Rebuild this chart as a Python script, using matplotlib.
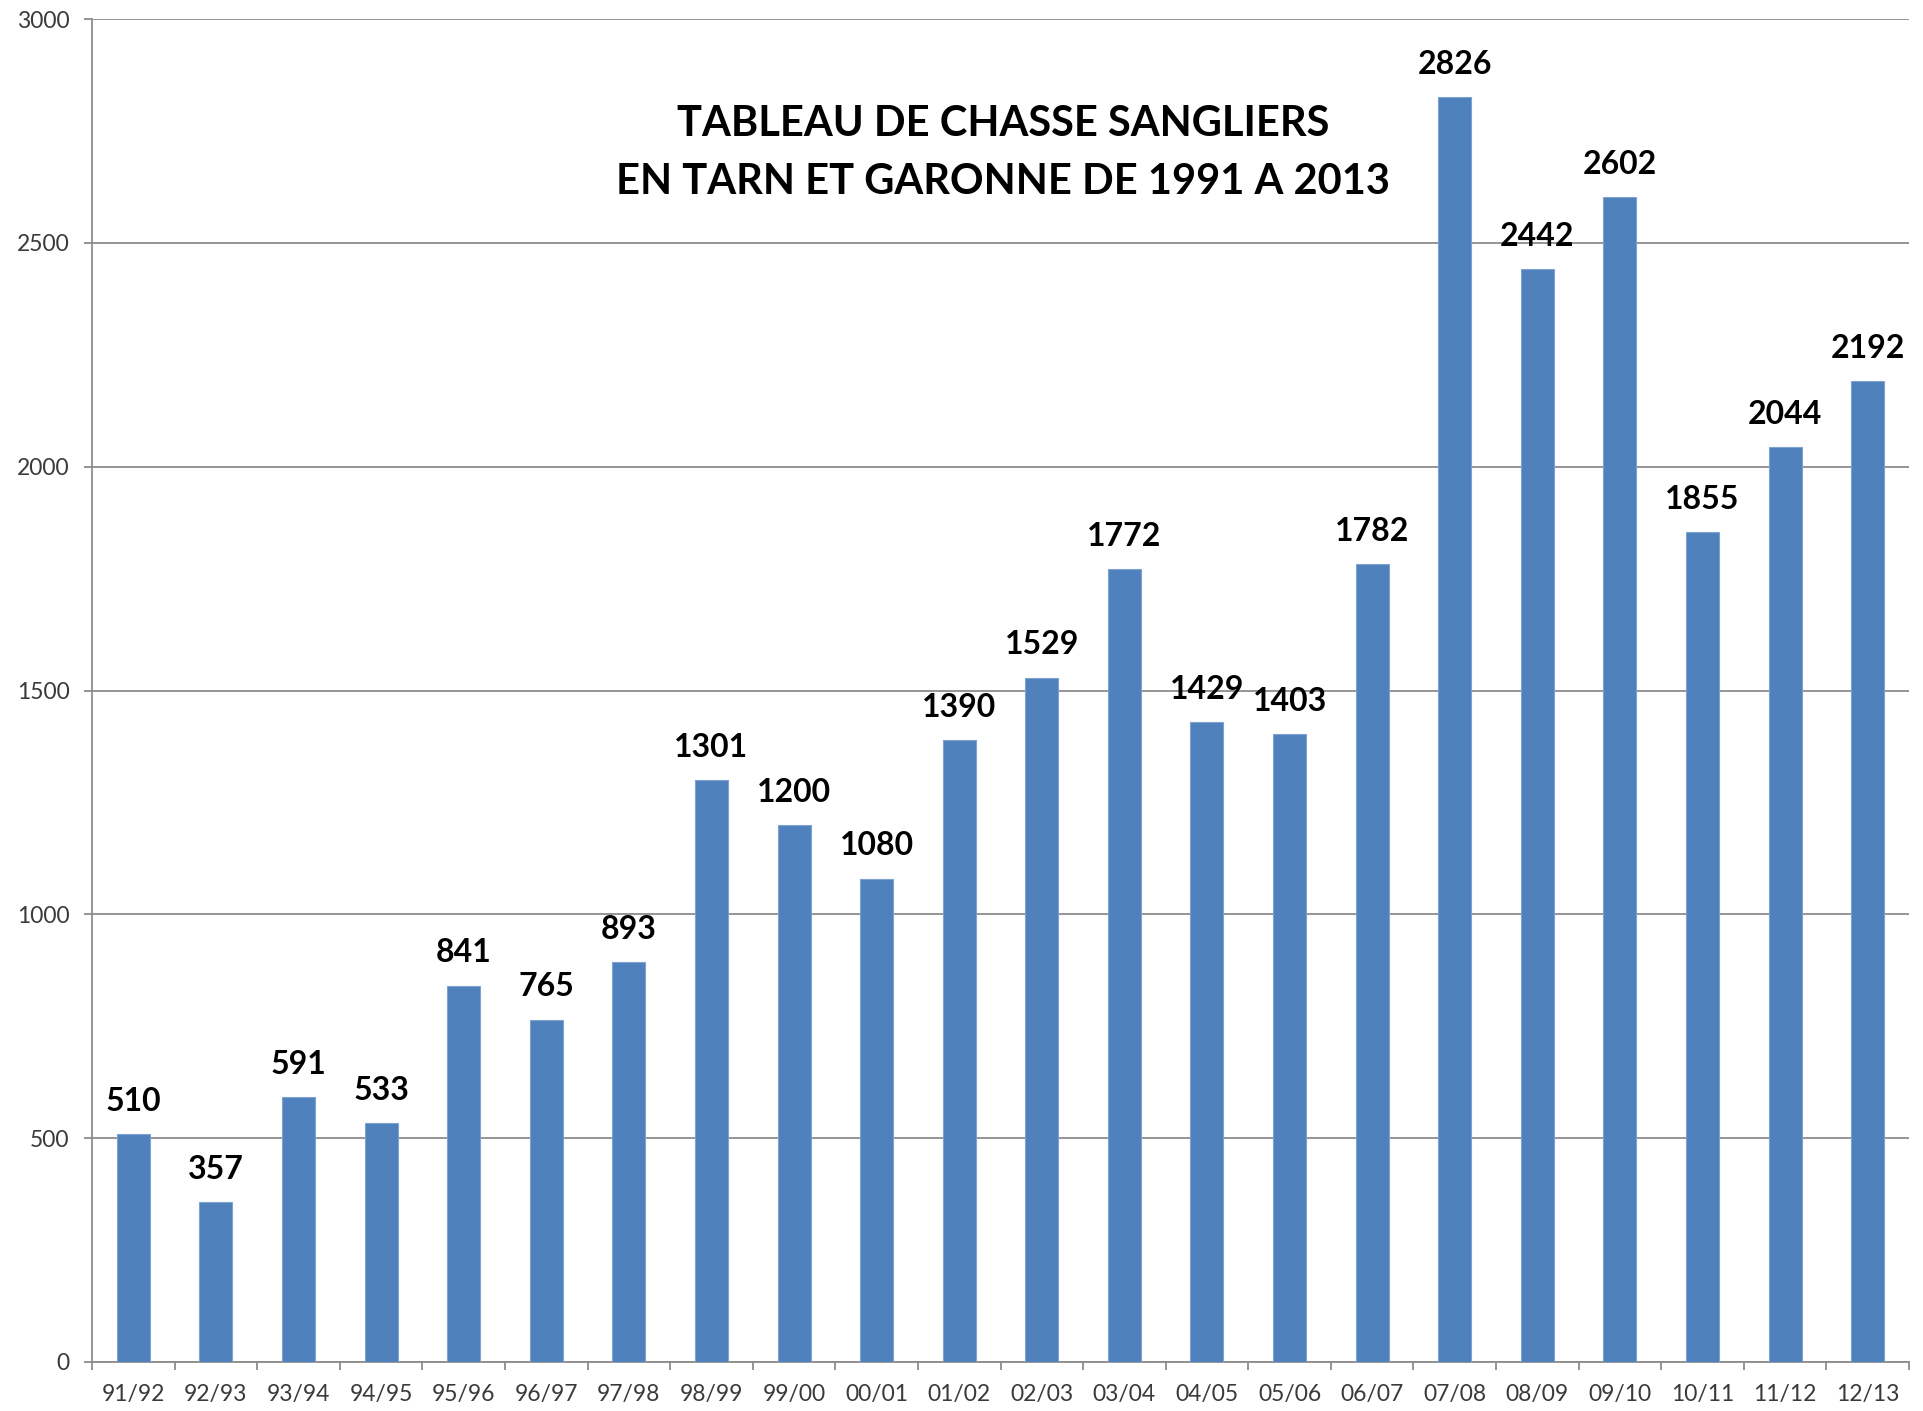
import numpy as np
import matplotlib.pyplot as plt

seasons = ["91/92", "92/93", "93/94", "94/95", "95/96", "96/97", "97/98", "98/99",
           "99/00", "00/01", "01/02", "02/03", "03/04", "04/05", "05/06", "06/07",
           "07/08", "08/09", "09/10", "10/11", "11/12", "12/13"]
sangliers = [510, 357, 591, 533, 841, 765, 893, 1301, 1200, 1080, 1390, 1529,
             1772, 1429, 1403, 1782, 2826, 2442, 2602, 1855, 2044, 2192]
yticks = [0, 500, 1000, 1500, 2000, 2500, 3000]
titre = "TABLEAU DE CHASSE SANGLIERS\nEN TARN ET GARONNE DE 1991 A 2013"

plt.rcParams['font.family'] = ['Lato', 'DejaVu Sans']

fig = plt.figure(figsize=(19.23, 14.11), dpi=100)
ax = fig.add_axes([92/1923, 1 - 1362/1411, (1909 - 92)/1923, (1362 - 19)/1411])

x = np.arange(len(seasons))
bars = ax.bar(x, sangliers, width=0.4, color="#4F81BD", edgecolor="#7FA3D0",
              linewidth=0.8, zorder=3)

for xi, v in zip(x, sangliers):
    ax.annotate(str(v), (xi, v), xytext=(0, 13), textcoords="offset points",
                ha="center", va="bottom", fontsize=23, fontweight="bold")

ax.set_xlim(-0.5, len(seasons) - 0.5)
ax.set_ylim(0, 3000)
ax.set_yticks(yticks)
ax.set_yticklabels([str(t) for t in yticks], fontsize=16.5, color="#3A3A3A")
ax.yaxis.grid(True, color="#8C8C8C", linewidth=1.3, zorder=0)

ax.set_xticks(x)
ax.set_xticklabels(seasons, fontsize=16.5, color="#3A3A3A")
ax.set_xticks(np.arange(len(seasons) + 1) - 0.5, minor=True)
ax.tick_params(axis="x", which="major", length=0, pad=16)
ax.tick_params(axis="x", which="minor", length=6, width=1.3, color="#8C8C8C")
ax.tick_params(axis="y", length=6, width=1.3, color="#8C8C8C", pad=10)

for s in ["top", "right"]:
    ax.spines[s].set_visible(False)
for s in ["left", "bottom"]:
    ax.spines[s].set_color("#8C8C8C")
    ax.spines[s].set_linewidth(1.3)

fig.text(1003/1923, 1 - 153/1411, titre, ha="center", va="center",
         fontsize=30, fontweight="bold", linespacing=1.62)

fig.savefig("out.png", dpi=100)
